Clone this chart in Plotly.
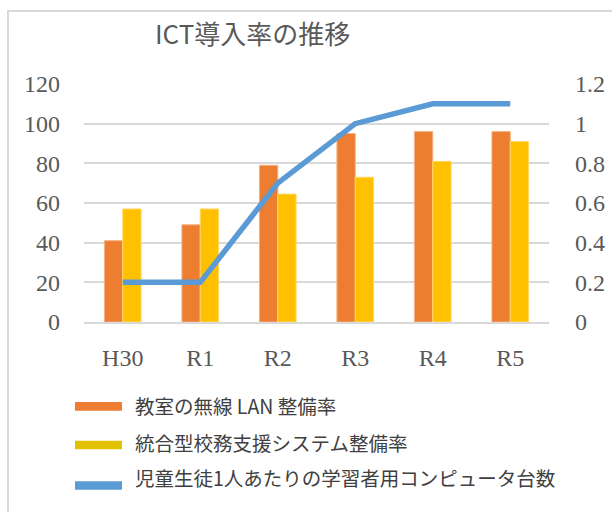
import plotly.graph_objects as go

categories = ["H30", "R1", "R2", "R3", "R4", "R5"]
wireless_lan = [41, 49, 79, 95, 96, 96]
school_system = [57, 57, 64.5, 73, 81, 91]
devices_per_student = [0.2, 0.2, 0.7, 1.0, 1.1, 1.1]
series_names = ["教室の無線 LAN 整備率", "統合型校務支援システム整備率", "児童生徒1人あたりの学習者用コンピュータ台数"]
title_text = "ICT導入率の推移"

W, H = 612, 512
L, R, T, B = 84, 549, 84, 321.7

def px(x):
    return (x - L) / (R - L)

def py(y):
    return (B - y) / (B - T)

ORANGE = "#ED7D31"
YELLOW = "#FFC000"
BLUE = "#5B9BD5"
GRID = "#D9D9D9"
TICK = "#595959"
SERIF = "Liberation Serif, DejaVu Serif, serif"
SANS = "Noto Sans CJK JP, Noto Sans, sans-serif"

fig = go.Figure()
fig.add_trace(go.Bar(x=categories, y=wireless_lan, name=series_names[0],
                     marker=dict(color=ORANGE, line=dict(color="#F4B183", width=1)),
                     showlegend=False))
fig.add_trace(go.Bar(x=categories, y=school_system, name=series_names[1],
                     marker=dict(color=YELLOW, line=dict(color="#FFD966", width=1)),
                     showlegend=False))
fig.add_trace(go.Scatter(x=categories, y=devices_per_student, name=series_names[2],
                         mode="lines", yaxis="y2",
                         line=dict(color=BLUE, width=5.5), showlegend=False))

shapes = [
    # chart border
    dict(type="rect", xref="paper", yref="paper",
         x0=px(8), x1=px(640), y0=py(540), y1=py(11),
         line=dict(color=GRID, width=2), fillcolor="rgba(0,0,0,0)", layer="below"),
]
annotations = [
    dict(text=title_text, xref="paper", yref="paper", x=px(252), y=py(33),
         xanchor="center", yanchor="middle", showarrow=False,
         font=dict(family=SANS, size=26, color=TICK)),
]
legend_colors = [ORANGE, "#E2C200", BLUE]
sym_y = [406, 444.5, 485]
txt_y = [405, 442, 477]
for name, c, sy, ty in zip(series_names, legend_colors, sym_y, txt_y):
    shapes.append(dict(type="rect", xref="paper", yref="paper",
                       x0=px(75), x1=px(122), y0=py(sy + 4.3), y1=py(sy - 4.3),
                       fillcolor=c, line=dict(width=0)))
    annotations.append(dict(text=name, xref="paper", yref="paper", x=px(133), y=py(ty),
                            xanchor="left", yanchor="middle", showarrow=False,
                            font=dict(family=SANS, size=19.5, color="#404040")))

fig.update_layout(
    width=W, height=H,
    margin=dict(l=L, r=W - R, t=T, b=H - B, pad=0, autoexpand=False),
    paper_bgcolor="white", plot_bgcolor="white",
    barmode="group", bargap=0.527, bargroupgap=0,
    xaxis=dict(showline=True, linecolor=GRID, linewidth=2, ticks="",
               tickfont=dict(family=SERIF, size=24, color=TICK),
               ticklabelstandoff=13, showgrid=False, automargin=False),
    yaxis=dict(range=[0, 120], dtick=20, showgrid=True, gridcolor=GRID, gridwidth=1.5,
               zeroline=False, ticks="", tickfont=dict(family=SERIF, size=24, color=TICK),
               ticklabelstandoff=23, automargin=False),
    yaxis2=dict(range=[0, 1.2], dtick=0.2, overlaying="y", side="right",
                showgrid=False, zeroline=False, ticks="",
                tickfont=dict(family=SERIF, size=24, color=TICK),
                ticklabelstandoff=25, automargin=False),
    shapes=shapes, annotations=annotations,
)

fig.write_html("out.html", config={"displayModeBar": False},
               post_script="document.body.style.margin='0';document.body.style.overflow='hidden';")
